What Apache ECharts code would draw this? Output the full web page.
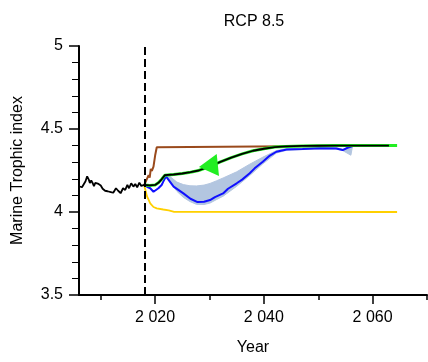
<!DOCTYPE html>
<html>
<head>
<meta charset="utf-8">
<script src="https://cdn.jsdelivr.net/npm/echarts@6/dist/echarts.min.js"></script>
<style>html,body{margin:0;padding:0;background:#fff}#c{width:428px;height:362px}</style>
</head>
<body>
<div id="c"></div>
<script>
// Historical observed index
const histYears = [2006.0,2006.55,2006.8,2007.2,2007.5,2007.8,2008.0,2008.25,2008.5,2008.75,2009.0,2009.3,2009.6,2010.0,2010.35,2010.8,2011.25,2011.85,2012.3,2012.8,2013.2,2013.65,2014.1,2014.5,2014.9,2015.2,2015.6,2016.0,2016.35,2016.7,2017.1,2017.45,2017.8,2018.0];
const histValues = [4.155,4.149,4.153,4.185,4.215,4.195,4.175,4.190,4.175,4.155,4.175,4.185,4.169,4.160,4.140,4.128,4.125,4.120,4.116,4.143,4.128,4.113,4.143,4.133,4.163,4.143,4.173,4.153,4.169,4.149,4.177,4.157,4.169,4.163];

// Black projection (with green underlay)
const blackYears = [2018.0,2019.0,2020.0,2020.6,2021.2,2021.8,2022.1,2023.4,2025.0,2026.5,2028.0,2030.0,2032.0,2034.0,2036.0,2038.0,2040.0,2042.0,2044.0,2047.0,2050.0,2053.0,2063.0];
const blackValues = [4.163,4.160,4.163,4.176,4.197,4.222,4.228,4.226,4.232,4.240,4.250,4.274,4.302,4.328,4.350,4.369,4.381,4.391,4.395,4.398,4.399,4.400,4.400];
const greenYears = [2018.0,2019.0,2020.0,2020.6,2021.2,2021.8,2022.1,2023.4,2025.0,2026.5,2028.0,2030.0,2032.0,2034.0,2036.0,2038.0,2040.0,2042.0,2044.0,2047.0,2050.0,2053.0,2064.5];
const greenValues = [4.163,4.160,4.163,4.176,4.197,4.222,4.228,4.226,4.232,4.240,4.250,4.274,4.302,4.328,4.350,4.369,4.381,4.391,4.395,4.398,4.399,4.400,4.400];

// Blue projection
const blueYears = [2018.0,2018.5,2019.1,2019.7,2020.0,2020.6,2020.9,2021.2,2021.5,2022.0,2023.4,2025.2,2026.5,2027.8,2029.0,2030.1,2031.0,2032.5,2033.4,2035.0,2036.0,2037.4,2038.3,2039.8,2041.1,2042.3,2044.2,2047.1,2050.3,2053.3,2054.5,2055.4,2056.3,2057.2,2063.0];
const blueValues = [4.163,4.152,4.143,4.122,4.133,4.143,4.137,4.163,4.183,4.215,4.153,4.112,4.080,4.060,4.062,4.072,4.090,4.112,4.140,4.173,4.195,4.233,4.263,4.303,4.340,4.363,4.377,4.380,4.384,4.383,4.373,4.387,4.397,4.400,4.400];

// Blue uncertainty band
const bandYears = [2022.0,2022.8,2024.0,2025.2,2026.4,2027.6,2029.0,2030.1,2031.3,2032.5,2035.0,2037.4,2039.8,2042.3,2044.2,2047.1,2050.3,2053.3,2054.5,2056.0,2056.3];
const bandLow  = [4.212,4.180,4.125,4.088,4.063,4.046,4.045,4.054,4.075,4.095,4.155,4.220,4.290,4.355,4.372,4.376,4.380,4.379,4.370,4.342,4.396];
const bandHigh = [4.216,4.212,4.180,4.165,4.158,4.157,4.162,4.172,4.188,4.205,4.242,4.288,4.330,4.370,4.382,4.386,4.389,4.388,4.378,4.392,4.398];

// Brown projection
const brownYears = [2018.0,2018.5,2018.8,2019.0,2019.2,2019.4,2019.7,2020.0,2020.3,2020.5,2063.0];
const brownValues = [4.163,4.200,4.222,4.207,4.260,4.247,4.273,4.340,4.390,4.400,4.400];

// Yellow projection
const yellowYears = [2018.0,2018.5,2019.1,2019.7,2020.3,2021.5,2022.5,2023.5,2064.5];
const yellowValues = [4.160,4.095,4.052,4.030,4.022,4.015,4.010,4.001,4.000];

// Arrow marker
const arrowYears = [2029.8];
const arrowValues = [4.277];

// Reference year (dashed line)
const refYear = 2018;

// Axis ticks
const xMajorTicks = [2020, 2040, 2060];
const xMinorTicks = [2010, 2030, 2050, 2070];
const xMin = 2006, xMax = 2070;
const yMin = 3.5, yMax = 5, yStep = 0.5;

const zip = (xs, ys) => xs.map((x, i) => [x, ys[i]]);
const FONT = 'Liberation Sans, Arial, sans-serif';

const chart = echarts.init(document.getElementById('c'), null, {renderer: 'canvas'});
chart.setOption({
  animation: false,
  backgroundColor: '#ffffff',
  title: {
    text: 'RCP 8.5',
    left: 249,
    top: 9,
    textAlign: 'center',
    textStyle: {fontFamily: FONT, fontSize: 16, fontWeight: 'normal', color: '#000'}
  },
  grid: {left: 79, right: 1, top: 46, bottom: 67, containLabel: false},
  xAxis: [{
    type: 'value', min: xMin, max: xMax,
    position: 'bottom',
    name: 'Year', nameLocation: 'middle', nameGap: 45,
    nameTextStyle: {fontFamily: FONT, fontSize: 16, color: '#000'},
    axisLine: {show: true, onZero: false, lineStyle: {color: '#000', width: 2}},
    axisTick: {show: true, customValues: xMajorTicks, length: 9, lineStyle: {color: '#000', width: 1.5}},
    axisLabel: {show: true, customValues: xMajorTicks, margin: 15, fontFamily: FONT, fontSize: 16, color: '#000',
      formatter: v => String(Math.round(v)).replace(/\B(?=(\d{3})+(?!\d))/g, ' ')},
    splitLine: {show: false}
  }, {
    type: 'value', min: xMin, max: xMax,
    position: 'bottom', offset: 0,
    axisLine: {show: false},
    axisTick: {show: true, customValues: xMinorTicks, length: 5, lineStyle: {color: '#000', width: 1.5}},
    axisLabel: {show: false},
    splitLine: {show: false}
  }],
  yAxis: {
    type: 'value', min: yMin, max: yMax, interval: yStep,
    name: 'Marine Trophic index', nameLocation: 'middle', nameGap: 53,
    nameTextStyle: {fontFamily: FONT, fontSize: 16, color: '#000'},
    axisLine: {show: true, onZero: false, lineStyle: {color: '#000', width: 2}},
    axisTick: {show: true, length: 10, lineStyle: {color: '#000', width: 1.5}},
    minorTick: {show: true, splitNumber: 5, length: 7, lineStyle: {color: '#000', width: 1}},
    axisLabel: {margin: 16, fontFamily: FONT, fontSize: 16, color: '#000'},
    splitLine: {show: false}
  },
  series: [
    {
      type: 'custom', name: 'band',
      data: bandYears.map((x, i) => [x, bandLow[i], bandHigh[i]]),
      encode: {x: 0, y: [1, 2]},
      renderItem: function (params, api) {
        if (params.dataIndex !== 0) return null;
        const pts = [];
        for (let i = 0; i < bandYears.length; i++) pts.push(api.coord([bandYears[i], bandHigh[i]]));
        for (let i = bandYears.length - 1; i >= 0; i--) pts.push(api.coord([bandYears[i], bandLow[i]]));
        return {type: 'polygon', shape: {points: pts}, style: {fill: '#b3c6e0', stroke: '#b3c6e0', lineWidth: 1}};
      },
      silent: true, z: 1
    },
    {
      type: 'line', name: 'yellow', data: zip(yellowYears, yellowValues),
      symbol: 'none', lineStyle: {color: '#ffd000', width: 1.8}
    },
    {
      type: 'line', name: 'brown', data: zip(brownYears, brownValues),
      symbol: 'none', lineStyle: {color: '#9a4a1c', width: 2}
    },
    {
      type: 'line', name: 'blue', data: zip(blueYears, blueValues),
      symbol: 'none', lineStyle: {color: '#1010ff', width: 2}
    },
    {
      type: 'line', name: 'green', data: zip(greenYears, greenValues),
      symbol: 'none', lineStyle: {color: '#22ee22', width: 3}
    },
    {
      type: 'line', name: 'black', data: zip(blackYears, blackValues),
      symbol: 'none', lineStyle: {color: '#000', width: 1.8}
    },
    {
      type: 'line', name: 'historical', data: zip(histYears, histValues),
      symbol: 'none', lineStyle: {color: '#000', width: 1.8},
      markLine: {
        silent: true, symbol: 'none', label: {show: false},
        lineStyle: {color: '#000', type: [8, 4], width: 2},
        data: [{xAxis: refYear}]
      }
    },
    {
      type: 'scatter', name: 'arrow', data: zip(arrowYears, arrowValues),
      symbol: 'triangle', symbolSize: [22, 19], symbolRotate: 96,
      itemStyle: {color: '#22ee22', opacity: 1}, z: 10
    }
  ]
});
</script>
</body>
</html>
